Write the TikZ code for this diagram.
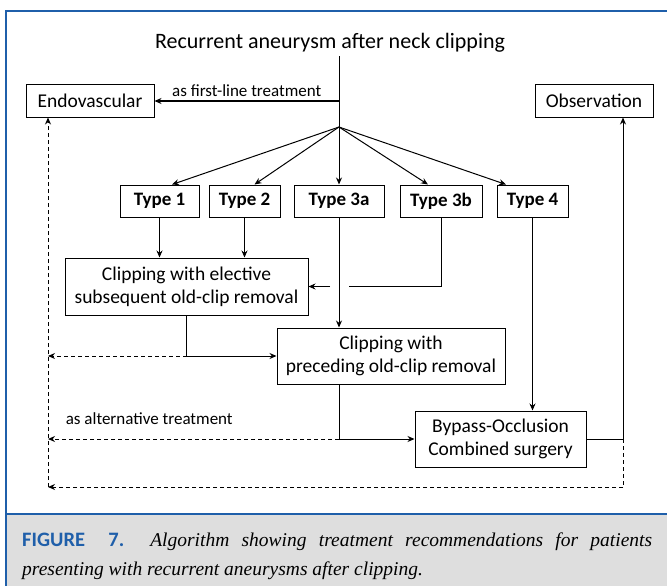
\documentclass[tikz,border=0pt]{standalone}
\usepackage{fontspec}
\setmainfont{Carlito}
\newfontfamily\capserif{Liberation Serif}
\usetikzlibrary{arrows.meta, positioning, calc}
\definecolor{frameblue}{HTML}{1F5FAA}
\definecolor{capgray}{HTML}{DEDEDE}

\tikzset{
  box/.style={draw, line width=1pt, align=center, inner sep=2pt,
              font=\fontsize{19.5}{23}\selectfont},
  typebox/.style={box, font=\fontsize{19}{22}\selectfont\bfseries,
                  minimum height=32pt},
  flow/.style={line width=1pt, -{Stealth[length=7pt, width=6pt]}},
  plain/.style={line width=1pt},
  alt/.style={line width=1pt, dash pattern=on 4pt off 3pt},
  note/.style={font=\fontsize{17}{20}\selectfont}
}

\begin{document}
\begin{tikzpicture}[x=1pt, y=-1pt]
      \useasboundingbox (0,0) rectangle (667,586);
      % frame and caption panel
      \fill[capgray] (6,514) rectangle (667,586);
      \draw[frameblue, line width=2.5pt] (6,588) -- (6,11) -- (670,11);
      \draw[frameblue, line width=2pt] (6,514) -- (670,514);
      \node[anchor=north west, text width=630pt, align=justify, inner sep=0pt,
            font=\fontsize{19.5}{29}\selectfont] (cap) at (22,533)
        {{\color{frameblue}\fontsize{20.5}{29}\selectfont\bfseries FIGURE\ \ 7.} {\capserif\itshape Algorithm showing treatment recommendations for patients\linebreak presenting with recurrent aneurysms after clipping.}};

      % title and outcomes
      \node[font=\fontsize{22}{26}\selectfont] (title) at (330,43)
        {Recurrent aneurysm after neck clipping};
      \node[box, minimum width=128pt, minimum height=32pt] (endo) at (90,101) {Endovascular};
      \node[box, minimum width=118pt, minimum height=32pt] (obs) at (594,101) {Observation};

      % types
      \node[typebox, minimum width=79pt] (t1) at (159.5,201) {Type 1};
      \node[typebox, minimum width=71pt] (t2) at (244.5,201) {Type 2};
      \node[typebox, minimum width=90pt] (t3a) at (339,201) {Type 3a};
      \node[typebox, minimum width=82pt] (t3b) at (441,201) {Type 3b};
      \node[typebox, minimum width=71pt] (t4) at (532.5,201) {Type 4};

      % treatments
      \node[box, minimum width=243pt, minimum height=57pt] (elect) at (186.5,286.5)
        {Clipping with elective\\subsequent old-clip removal};
      \node[box, minimum width=228pt, minimum height=56pt] (prec) at (391,356)
        {Clipping with\\preceding old-clip removal};
      \node[box, minimum width=171pt, minimum height=56pt] (byp) at (500.5,439)
        {Bypass-Occlusion\\Combined surgery};

      \coordinate (hub) at (339,127);
      \coordinate (rail) at (48,487);
      \coordinate (jump) at (339,286.5);
      \coordinate (obsline) at (623,439);

      % from the top
      \draw[plain] (title.south -| hub) -- (hub);
      \draw[flow] (hub |- endo) -- node[above, note, yshift=1pt] {as first-line treatment} (endo.east);
      \draw[flow] (hub) -- ([xshift=12.5pt]t1.north);
      \draw[flow] (hub) -- ([xshift=10pt]t2.north);
      \draw[flow] (hub) -- (t3a.north);
      \draw[flow] (hub) -- ([xshift=-13pt]t3b.north);
      \draw[flow] (hub) -- ([xshift=-26.5pt]t4.north);

      % types to treatments
      \draw[flow] (t1.south) -- (t1 |- elect.north);
      \draw[flow] (t2.south) -- (t2 |- elect.north);
      \draw[flow] (t3a.south) -- (t3a |- prec.north);
      \draw[plain] (t3b.south) |- ([xshift=10pt]jump);
      \draw[flow] ([xshift=-9pt]jump) -- (elect.east);
      \draw[flow] (t4.south) -- (t4 |- byp.north);

      % onward
      \draw[plain] (elect.south) -- (elect.south |- prec.west);
      \draw[flow] (elect.south |- prec.west) -- (prec.west);
      \draw[alt, -{Stealth[length=7pt, width=6pt]}] (elect.south |- prec.west) -- (rail |- prec.west);
      \draw[plain] (t3a |- prec.south) -- (t3a |- byp.west);
      \draw[flow] (t3a |- byp.west) -- (byp.west);
      \draw[alt, -{Stealth[length=7pt, width=6pt]}] (t3a |- byp.west)
        -- node[note, pos=1, anchor=west, xshift=14pt, yshift=20pt] {as alternative treatment} (rail |- byp.west);
      \draw[plain] (byp.east) -- (obsline);
      \draw[flow] (obsline) -- (obsline |- obs.south);
      \draw[alt] (obsline) -- (obsline |- rail);
      \draw[alt, -{Stealth[length=7pt, width=6pt]}] (obsline |- rail) -- (rail);
      \draw[alt, -{Stealth[length=7pt, width=6pt]}] (rail) -- (rail |- endo.south);
    \end{tikzpicture}
\end{document}
